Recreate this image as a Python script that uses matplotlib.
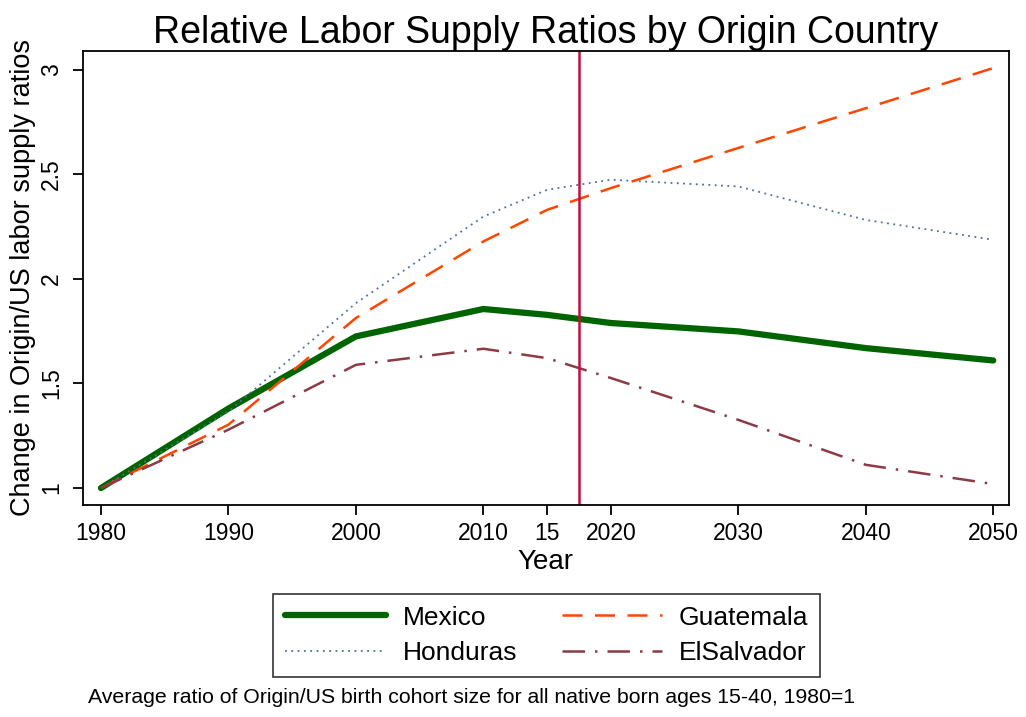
import numpy as np
import matplotlib.pyplot as plt

plt.rcParams['font.family'] = ['Liberation Sans', 'DejaVu Sans']

years = [1980, 1990, 2000, 2010, 2015, 2020, 2030, 2040, 2050]
mexico = [1.00, 1.38, 1.725, 1.856, 1.828, 1.789, 1.749, 1.669, 1.61]
guatemala = [1.00, 1.303, 1.813, 2.179, 2.33, 2.434, 2.626, 2.816, 3.008]
honduras = [1.00, 1.366, 1.884, 2.298, 2.426, 2.474, 2.442, 2.282, 2.187]
elsalvador = [1.00, 1.279, 1.589, 1.666, 1.621, 1.526, 1.326, 1.111, 1.019]

tick_years = [1980, 1990, 2000, 2010, 2015, 2020, 2030, 2040, 2050]
tick_labels = ["1980", "1990", "2000", "2010", "15", "2020", "2030", "2040", "2050"]
y_ticks = [1, 1.5, 2, 2.5, 3]
y_tick_labels = ["1", "1.5", "2", "2.5", "3"]
cutoff_year = 2017.5

fig = plt.figure(figsize=(10.26, 7.17), dpi=100)
ax = fig.add_axes([0.081, 0.296, 0.902, 0.633])

ax.plot(years, mexico, color="#006400", lw=4.5, solid_capstyle="round", label="Mexico")
ax.plot(years, honduras, color="#4d6f98", lw=1.3, ls=(0, (1, 2.5)), label="Honduras")
ax.plot(years, guatemala, color="#ff4500", lw=1.8, ls=(0, (8, 5)), label="Guatemala")
ax.plot(years, elsalvador, color="#8c3a44", lw=1.8, ls=(0, (9, 4, 1, 4)), label="ElSalvador")
ax.axvline(cutoff_year, color="#c0103f", lw=1.8)

ax.set_xlim(1978.6, 2051.2)
ax.set_ylim(0.92, 3.09)
ax.set_xticks(tick_years)
ax.set_xticklabels(tick_labels)
ax.set_yticks(y_ticks)
ax.set_yticklabels(y_tick_labels, rotation=90, va="center")
ax.tick_params(direction="out", length=7.5, width=1.3, labelsize=16.5)
ax.tick_params(axis="y", pad=7)
ax.tick_params(axis="x", pad=5)
for s in ax.spines.values():
    s.set_linewidth(1.3)

ax.set_xlabel("Year", fontsize=20, labelpad=3)
ax.set_ylabel("Change in Origin/US labor supply ratios", fontsize=19.5, labelpad=3)
ax.set_title("Relative Labor Supply Ratios by Origin Country", fontsize=27, pad=6)

leg = fig.legend(ncol=2, loc="center", bbox_to_anchor=(0.533, 0.1137),
                 fontsize=19, handlelength=3.8, handletextpad=0.64,
                 frameon=True, fancybox=False, edgecolor="black",
                 columnspacing=1.7, borderpad=0.45, labelspacing=0.45)
leg.get_frame().set_linewidth(1.2)

fig.text(0.086, 0.027, "Average ratio of Origin/US birth cohort size for all native born ages 15-40, 1980=1",
         fontsize=15.3, ha="left", va="center")

fig.savefig("out.png", dpi=100)
